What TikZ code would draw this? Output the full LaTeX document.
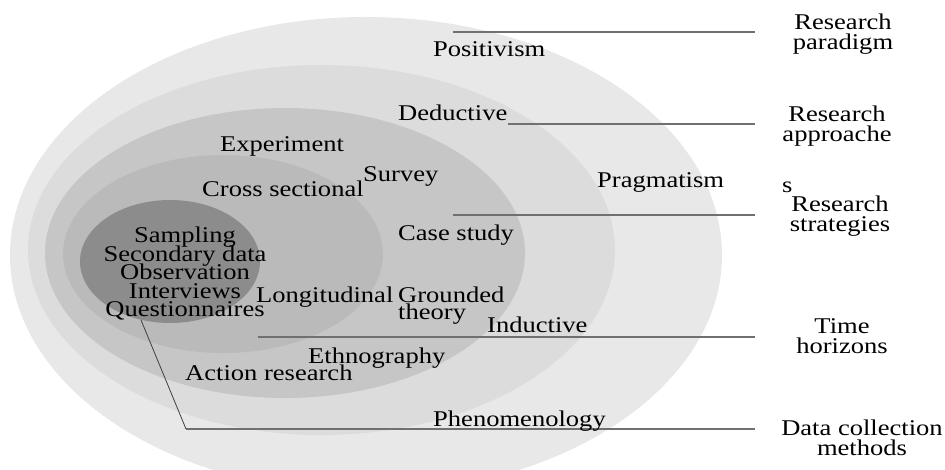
\documentclass[tikz,border=0pt]{standalone}
\usepackage{fontspec}
\setmainfont{Liberation Serif}[FakeStretch=1.18]
\lineskiplimit=-100pt
\definecolor{eA}{HTML}{E8E8E8}
\definecolor{eB}{HTML}{DCDCDC}
\definecolor{eC}{HTML}{C6C6C6}
\definecolor{eD}{HTML}{BABABA}
\definecolor{eE}{HTML}{8C8C8C}
\definecolor{lineg}{HTML}{707070}
\begin{document}
\begin{tikzpicture}[x=1pt,y=-1pt,
  lbl/.style={font=\fontsize{22.5}{20}\selectfont, inner sep=0pt, text=black},
  stack/.style={lbl, font=\fontsize{22.5}{18.5}\selectfont},
  guide/.style={draw=lineg, line width=1.3pt},
  lead/.style={draw=black!75, line width=0.8pt}]
\useasboundingbox (0,0) rectangle (945,470);
\begin{scope}
\clip (0,0) rectangle (945,470);
\fill[eA] (366,255) ellipse [x radius=356, y radius=238];
\fill[eB] (321.5,250) ellipse [x radius=293.5, y radius=185];
\fill[eC] (285,253) ellipse [x radius=240, y radius=145];
\fill[eD] (223,254) ellipse [x radius=160, y radius=99];
\fill[eE] (170,261.5) ellipse [x radius=90, y radius=61.5];
\end{scope}

% guide lines
\coordinate (g1a) at (453,32);  \coordinate (g1b) at (755,32);
\coordinate (g2a) at (508,124); \coordinate (g2b) at (755,124);
\coordinate (g3a) at (453,215); \coordinate (g3b) at (755,215);
\coordinate (g4a) at (258,337); \coordinate (g4b) at (755,337);
\coordinate (g5k) at (186,429); \coordinate (g5b) at (755,429);
\draw[guide] (g1a) -- (g1b);
\draw[guide] (g2a) -- (g2b);
\draw[guide] (g3a) -- (g3b);
\draw[guide] (g4a) -- (g4b);
\draw[guide] (g5k) -- (g5b);

% inner labels
\node[lbl, anchor=base west] (posit) at (433,57) {Positivism};
\node[lbl, anchor=base west] (deduc) at (398,121) {Deductive};
\node[lbl, anchor=base west] (exper) at (220,152) {Experiment};
\node[lbl, anchor=base west] (survey) at (363,182) {Survey};
\node[lbl, anchor=base west] (cross) at (202,197) {Cross sectional};
\node[lbl, anchor=base west] (pragm) at (597,188) {Pragmatism};
\node[lbl, anchor=base west] (case) at (398,241) {Case study};
\node[stack, align=center] (methods) at (185,274)
  {Sampling\\Secondary data\\Observation\\Interviews\\Questionnaires};
\node[lbl, anchor=base west] (longi) at (256,302) {Longitudinal};
\node[stack, align=left, anchor=west, font=\fontsize{22.5}{17}\selectfont] (ground) at (398,306) {Grounded\\theory};
\node[lbl, anchor=base west] (induc) at (487,333) {Inductive};
\node[lbl, anchor=base west] (ethno) at (308,363) {Ethnography};
\node[lbl, anchor=base west] (action) at (185,380) {Action research};
\node[lbl, anchor=base west] (pheno) at (433,426) {Phenomenology};

% right labels
\node[lbl, align=center] (rparad) at (843,34) {Research\\paradigm};
\node[lbl, align=center] (rappr) at (837,126) {Research\\approache};
\node[lbl, anchor=base west] (rs) at (782,193) {s};
\node[lbl, align=center] (rstrat) at (840,216) {Research\\strategies};
\node[lbl, align=center] (rtime) at (842,336) {Time\\horizons};
\node[lbl, align=center] (rdata) at (862,438) {Data collection\\methods};

% leader from Questionnaires
\coordinate (q0) at (141,320);
\draw[lead] (q0) -- (g5k);
\end{tikzpicture}
\end{document}
